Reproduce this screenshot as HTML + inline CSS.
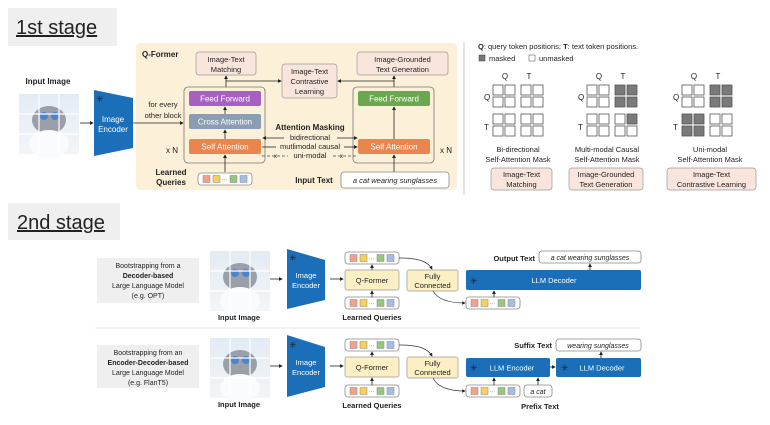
<!DOCTYPE html>
<html><head><meta charset="utf-8"><style>
html,body{margin:0;padding:0;background:#fff}
svg{display:block}
text{font-family:"Liberation Sans",sans-serif;fill:#222}
.b{font-weight:bold}
.w{fill:#fff}
</style></head><body>
<svg width="770" height="425" viewBox="0 0 770 425" xmlns="http://www.w3.org/2000/svg">
<defs>
<marker id="a" markerWidth="5" markerHeight="5" refX="4" refY="2.5" orient="auto"><path d="M0,0 L5,2.5 L0,5z" fill="#222"/></marker>
<linearGradient id="cat" x1="0" y1="0" x2="0" y2="1"><stop offset="0" stop-color="#e3ebf3"/><stop offset="1" stop-color="#f2f5f8"/></linearGradient>
<g id="q"><rect x="0" y="0" width="54" height="12" rx="3" fill="#fff" stroke="#888" stroke-width="0.8"/>
<rect x="5" y="2.5" width="7" height="7" fill="#f4a08a" stroke="#888" stroke-width="0.5"/>
<rect x="15" y="2.5" width="7" height="7" fill="#f7cf5a" stroke="#888" stroke-width="0.5"/>
<text x="24" y="8.5" font-size="5" fill="#888">···</text>
<rect x="32" y="2.5" width="7" height="7" fill="#98c67f" stroke="#888" stroke-width="0.5"/>
<rect x="42" y="2.5" width="7" height="7" fill="#a3bde6" stroke="#888" stroke-width="0.5"/></g>
<g id="img"><rect x="0" y="0" width="60" height="60" fill="url(#cat)"/>
<ellipse cx="30" cy="26" rx="17" ry="14" fill="#9a9fa8"/>
<ellipse cx="30" cy="50" rx="20" ry="14" fill="#fafbfc"/>
<circle cx="25" cy="22" r="4" fill="#4a85cf"/><circle cx="36" cy="22" r="4" fill="#4a85cf"/>
<path d="M20 0V60M40 0V60M0 20H60M0 40H60" stroke="#fff" stroke-width="1.2"/></g>
<g id="snow"><text x="0" y="0" font-size="9" fill="#cfe0f3">✳</text></g>
</defs>

<!-- 1st stage title -->
<rect x="8" y="8" width="109" height="38" fill="#efefef"/>
<text x="16" y="34" font-size="20" fill="#555" text-decoration="underline">1st stage</text>

<!-- Q-former bg -->
<rect x="136" y="43" width="321" height="147" rx="4" fill="#fcf1d8"/>
<text x="142" y="57" font-size="8" class="b">Q-Former</text>

<text x="48" y="84" font-size="8" class="b" text-anchor="middle">Input Image</text>
<use href="#img" x="19" y="94"/>
<line x1="80" y1="123" x2="93" y2="123" stroke="#222" stroke-width="0.8" marker-end="url(#a)"/>
<path d="M94 90 L133 98 L133 148 L94 156z" fill="#1a6fb8"/>
<use href="#snow" x="96" y="102"/>
<text x="113" y="122" font-size="8" class="w" text-anchor="middle">Image</text>
<text x="113" y="132" font-size="8" class="w" text-anchor="middle">Encoder</text>
<text x="163" y="107" font-size="7.5" text-anchor="middle">for every</text>
<text x="163" y="118" font-size="7.5" text-anchor="middle">other block</text>
<line x1="133" y1="123" x2="183" y2="123" stroke="#222" stroke-width="0.8" marker-end="url(#a)"/>

<!-- top boxes -->
<rect x="196" y="52" width="60" height="23" rx="3" fill="#fae5dc" stroke="#999" stroke-width="0.7"/>
<text x="226" y="62" font-size="7.5" text-anchor="middle">Image-Text</text>
<text x="226" y="72" font-size="7.5" text-anchor="middle">Matching</text>
<rect x="282" y="64" width="55" height="34" rx="3" fill="#fae5dc" stroke="#999" stroke-width="0.7"/>
<text x="309.5" y="74" font-size="7.5" text-anchor="middle">Image-Text</text>
<text x="309.5" y="84" font-size="7.5" text-anchor="middle">Contrastive</text>
<text x="309.5" y="94" font-size="7.5" text-anchor="middle">Learning</text>
<rect x="357" y="52" width="91" height="23" rx="3" fill="#fae5dc" stroke="#999" stroke-width="0.7"/>
<text x="402.5" y="62" font-size="7.5" text-anchor="middle">Image-Grounded</text>
<text x="402.5" y="72" font-size="7.5" text-anchor="middle">Text Generation</text>

<!-- connectors top -->
<line x1="226" y1="87" x2="226" y2="76" stroke="#222" stroke-width="0.8" marker-end="url(#a)"/>
<line x1="226" y1="81" x2="281" y2="81" stroke="#222" stroke-width="0.8" marker-end="url(#a)"/>
<line x1="394" y1="87" x2="394" y2="76" stroke="#222" stroke-width="0.8" marker-end="url(#a)"/>
<line x1="394" y1="81" x2="338" y2="81" stroke="#222" stroke-width="0.8" marker-end="url(#a)"/>

<!-- left block -->
<rect x="184" y="87" width="81" height="76" rx="4" fill="none" stroke="#777" stroke-width="0.8"/>
<rect x="189" y="91" width="72" height="15" rx="2" fill="#a660c4"/>
<text x="225" y="101.5" font-size="8" class="w" text-anchor="middle">Feed Forward</text>
<rect x="189" y="114" width="72" height="15" rx="2" fill="#8a9db2"/>
<text x="225" y="124.5" font-size="8" class="w" text-anchor="middle">Cross Attention</text>
<rect x="189" y="139" width="72" height="15" rx="2" fill="#e9854d"/>
<text x="225" y="149.5" font-size="8" class="w" text-anchor="middle">Self Attention</text>
<line x1="225" y1="114" x2="225" y2="107" stroke="#222" stroke-width="0.8" marker-end="url(#a)"/>
<line x1="225" y1="139" x2="225" y2="130" stroke="#222" stroke-width="0.8" marker-end="url(#a)"/>
<line x1="225" y1="172" x2="225" y2="155" stroke="#222" stroke-width="0.8" marker-end="url(#a)"/>

<!-- right block -->
<rect x="353" y="87" width="81" height="76" rx="4" fill="none" stroke="#777" stroke-width="0.8"/>
<rect x="358" y="91" width="72" height="15" rx="2" fill="#69a84e"/>
<text x="394" y="101.5" font-size="8" class="w" text-anchor="middle">Feed Forward</text>
<rect x="358" y="139" width="72" height="15" rx="2" fill="#e9854d"/>
<text x="394" y="149.5" font-size="8" class="w" text-anchor="middle">Self Attention</text>
<line x1="394" y1="139" x2="394" y2="107" stroke="#222" stroke-width="0.8" marker-end="url(#a)"/>
<line x1="394" y1="172" x2="394" y2="155" stroke="#222" stroke-width="0.8" marker-end="url(#a)"/>

<text x="310" y="130" font-size="8" class="b" text-anchor="middle">Attention Masking</text>
<text x="310" y="140" font-size="7.5" text-anchor="middle">bidirectional</text>
<text x="310" y="149" font-size="7.5" text-anchor="middle">mutlimodal causal</text>
<text x="310" y="158" font-size="7.5" text-anchor="middle">uni-modal</text>
<line x1="284" y1="138" x2="263" y2="138" stroke="#222" stroke-width="0.8" marker-end="url(#a)"/>
<line x1="337" y1="138" x2="357" y2="138" stroke="#222" stroke-width="0.8" marker-end="url(#a)"/>
<line x1="262" y1="147" x2="276" y2="147" stroke="#222" stroke-width="0.8"/>
<line x1="344" y1="147" x2="357" y2="147" stroke="#222" stroke-width="0.8" marker-end="url(#a)"/>
<line x1="262" y1="156" x2="288" y2="156" stroke="#444" stroke-width="0.8" stroke-dasharray="3,2"/>
<line x1="333" y1="156" x2="357" y2="156" stroke="#444" stroke-width="0.8" stroke-dasharray="3,2"/>
<text x="274" y="158" font-size="6">x</text><text x="340" y="158" font-size="6">x</text>
<text x="166" y="153" font-size="8">x N</text>
<text x="440" y="153" font-size="8">x N</text>

<text x="171" y="175" font-size="8" class="b" text-anchor="middle">Learned</text>
<text x="171" y="185" font-size="8" class="b" text-anchor="middle">Queries</text>
<use href="#q" x="198" y="173"/>
<text x="314" y="183" font-size="8" class="b" text-anchor="middle">Input Text</text>
<rect x="341" y="172" width="108" height="16" rx="3" fill="#fff" stroke="#888" stroke-width="0.8"/>
<text x="395" y="183" font-size="7.5" font-style="italic" text-anchor="middle">a cat wearing sunglasses</text>

<line x1="464" y1="42" x2="464" y2="195" stroke="#bbb" stroke-width="0.8"/>

<!-- right panel -->
<text x="478" y="49" font-size="7.5"><tspan class="b">Q</tspan>: query token positions;   <tspan class="b">T</tspan>: text token positions.</text>
<rect x="479" y="55" width="6" height="6" fill="#777" stroke="#444" stroke-width="0.5"/>
<text x="489" y="61" font-size="7.5">masked</text>
<rect x="529" y="55" width="6" height="6" fill="#fff" stroke="#444" stroke-width="0.5"/>
<text x="539" y="61" font-size="7.5">unmasked</text>

<g font-size="8">
<g id="g1" transform="translate(493,0)">
<text x="12" y="79" text-anchor="middle">Q</text><text x="36" y="79" text-anchor="middle">T</text>
<text x="-9" y="100">Q</text><text x="-9" y="130">T</text>
</g>
<g transform="translate(587,0)"><text x="12" y="79" text-anchor="middle">Q</text><text x="36" y="79" text-anchor="middle">T</text><text x="-9" y="100">Q</text><text x="-9" y="130">T</text></g>
<g transform="translate(682,0)"><text x="12" y="79" text-anchor="middle">Q</text><text x="36" y="79" text-anchor="middle">T</text><text x="-9" y="100">Q</text><text x="-9" y="130">T</text></g>
</g>
<g stroke="#555" stroke-width="0.8">
<!-- grid1 all unmasked -->
<g fill="#fff">
<rect x="493" y="85" width="10" height="10"/><rect x="505" y="85" width="10" height="10"/><rect x="521" y="85" width="10" height="10"/><rect x="533" y="85" width="10" height="10"/>
<rect x="493" y="97" width="10" height="10"/><rect x="505" y="97" width="10" height="10"/><rect x="521" y="97" width="10" height="10"/><rect x="533" y="97" width="10" height="10"/>
<rect x="493" y="114" width="10" height="10"/><rect x="505" y="114" width="10" height="10"/><rect x="521" y="114" width="10" height="10"/><rect x="533" y="114" width="10" height="10"/>
<rect x="493" y="126" width="10" height="10"/><rect x="505" y="126" width="10" height="10"/><rect x="521" y="126" width="10" height="10"/><rect x="533" y="126" width="10" height="10"/>
</g>
<!-- grid2 -->
<rect x="587" y="85" width="10" height="10" fill="#fff"/><rect x="599" y="85" width="10" height="10" fill="#fff"/><rect x="615" y="85" width="10" height="10" fill="#7a7a7a"/><rect x="627" y="85" width="10" height="10" fill="#7a7a7a"/>
<rect x="587" y="97" width="10" height="10" fill="#fff"/><rect x="599" y="97" width="10" height="10" fill="#fff"/><rect x="615" y="97" width="10" height="10" fill="#7a7a7a"/><rect x="627" y="97" width="10" height="10" fill="#7a7a7a"/>
<rect x="587" y="114" width="10" height="10" fill="#fff"/><rect x="599" y="114" width="10" height="10" fill="#fff"/><rect x="615" y="114" width="10" height="10" fill="#fff"/><rect x="627" y="114" width="10" height="10" fill="#7a7a7a"/>
<rect x="587" y="126" width="10" height="10" fill="#fff"/><rect x="599" y="126" width="10" height="10" fill="#fff"/><rect x="615" y="126" width="10" height="10" fill="#fff"/><rect x="627" y="126" width="10" height="10" fill="#fff"/>
<!-- grid3 -->
<rect x="682" y="85" width="10" height="10" fill="#fff"/><rect x="694" y="85" width="10" height="10" fill="#fff"/><rect x="710" y="85" width="10" height="10" fill="#7a7a7a"/><rect x="722" y="85" width="10" height="10" fill="#7a7a7a"/>
<rect x="682" y="97" width="10" height="10" fill="#fff"/><rect x="694" y="97" width="10" height="10" fill="#fff"/><rect x="710" y="97" width="10" height="10" fill="#7a7a7a"/><rect x="722" y="97" width="10" height="10" fill="#7a7a7a"/>
<rect x="682" y="114" width="10" height="10" fill="#7a7a7a"/><rect x="694" y="114" width="10" height="10" fill="#7a7a7a"/><rect x="710" y="114" width="10" height="10" fill="#fff"/><rect x="722" y="114" width="10" height="10" fill="#fff"/>
<rect x="682" y="126" width="10" height="10" fill="#7a7a7a"/><rect x="694" y="126" width="10" height="10" fill="#7a7a7a"/><rect x="710" y="126" width="10" height="10" fill="#fff"/><rect x="722" y="126" width="10" height="10" fill="#fff"/>
</g>
<g font-size="7.5" text-anchor="middle">
<text x="518" y="152">Bi-directional</text><text x="518" y="162">Self-Attention Mask</text>
<text x="607" y="152">Multi-modal Causal</text><text x="607" y="162">Self-Attention Mask</text>
<text x="710" y="152">Uni-modal</text><text x="710" y="162">Self-Attention Mask</text>
</g>
<rect x="491" y="168" width="61" height="22" rx="3" fill="#fae5dc" stroke="#999" stroke-width="0.7"/>
<rect x="569" y="168" width="74" height="22" rx="3" fill="#fae5dc" stroke="#999" stroke-width="0.7"/>
<rect x="667" y="168" width="89" height="22" rx="3" fill="#fae5dc" stroke="#999" stroke-width="0.7"/>
<g font-size="7.5" text-anchor="middle">
<text x="521.5" y="177">Image-Text</text><text x="521.5" y="187">Matching</text>
<text x="606" y="177">Image-Grounded</text><text x="606" y="187">Text Generation</text>
<text x="711.5" y="177">Image-Text</text><text x="711.5" y="187">Contrastive Learning</text>
</g>

<!-- 2nd stage -->
<rect x="8" y="203" width="112" height="37" fill="#efefef"/>
<text x="17" y="229" font-size="20" fill="#555" text-decoration="underline">2nd stage</text>

<!-- row1 -->
<rect x="97" y="258" width="102" height="45" fill="#efefef"/>
<g font-size="7" text-anchor="middle" fill="#444">
<text x="148" y="268">Bootstrapping from a</text>
<text x="148" y="278" class="b">Decoder-based</text>
<text x="148" y="288">Large Language Model</text>
<text x="148" y="298">(e.g. OPT)</text>
</g>
<use href="#img" x="210" y="251" transform="translate(0,0)"/>
<text x="239" y="320" font-size="7.5" class="b" text-anchor="middle">Input Image</text>
<line x1="270" y1="279" x2="282" y2="279" stroke="#222" stroke-width="0.8" marker-end="url(#a)"/>
<path d="M287 249 L325 260 L325 300 L287 309z" fill="#1a6fb8"/>
<use href="#snow" x="289" y="261"/>
<text x="306" y="278" font-size="7.5" class="w" text-anchor="middle">Image</text>
<text x="306" y="288" font-size="7.5" class="w" text-anchor="middle">Encoder</text>
<line x1="330" y1="279" x2="343" y2="279" stroke="#222" stroke-width="0.8" marker-end="url(#a)"/>
<use href="#q" x="345" y="252"/>
<rect x="345" y="270" width="54" height="20" rx="2" fill="#fcefc4" stroke="#999" stroke-width="0.7"/>
<text x="372" y="283" font-size="7.5" text-anchor="middle">Q-Former</text>
<use href="#q" x="345" y="297"/>
<line x1="372" y1="297" x2="372" y2="291" stroke="#222" stroke-width="0.8" marker-end="url(#a)"/>
<line x1="372" y1="270" x2="372" y2="265" stroke="#222" stroke-width="0.8" marker-end="url(#a)"/>
<text x="372" y="320" font-size="7.5" class="b" text-anchor="middle">Learned Queries</text>
<rect x="407" y="270" width="51" height="21" rx="2" fill="#fcefc4" stroke="#999" stroke-width="0.7"/>
<text x="432.5" y="279" font-size="7.5" text-anchor="middle">Fully</text>
<text x="432.5" y="288" font-size="7.5" text-anchor="middle">Connected</text>
<path d="M399 258 C420 258 428 262 432 269" fill="none" stroke="#333" stroke-width="0.7" marker-end="url(#a)"/>
<path d="M433 291 C438 300 450 303 465 303" fill="none" stroke="#333" stroke-width="0.7" marker-end="url(#a)"/>
<rect x="466" y="270" width="175" height="20" rx="2" fill="#1a6fb8"/>
<use href="#snow" x="470" y="284"/>
<text x="554" y="283" font-size="7.5" class="w" text-anchor="middle">LLM Decoder</text>
<use href="#q" x="466" y="297"/>
<line x1="494" y1="297" x2="494" y2="291" stroke="#222" stroke-width="0.8" marker-end="url(#a)"/>
<text x="535" y="261" font-size="7.5" class="b" text-anchor="end">Output Text</text>
<rect x="539" y="251" width="102" height="12" rx="3" fill="#fff" stroke="#888" stroke-width="0.8"/>
<text x="590" y="260" font-size="7" font-style="italic" text-anchor="middle">a cat wearing sunglasses</text>
<line x1="590" y1="270" x2="590" y2="264" stroke="#222" stroke-width="0.8" marker-end="url(#a)"/>

<line x1="95" y1="328" x2="640" y2="328" stroke="#ddd" stroke-width="0.8"/>

<!-- row2 -->
<rect x="97" y="345" width="102" height="43" fill="#efefef"/>
<g font-size="7" text-anchor="middle" fill="#444">
<text x="148" y="355">Bootstrapping from an</text>
<text x="148" y="365" class="b">Encoder-Decoder-based</text>
<text x="148" y="375">Large Language Model</text>
<text x="148" y="385">(e.g. FlanT5)</text>
</g>
<use href="#img" x="210" y="338"/>
<text x="239" y="407" font-size="7.5" class="b" text-anchor="middle">Input Image</text>
<line x1="270" y1="366" x2="282" y2="366" stroke="#222" stroke-width="0.8" marker-end="url(#a)"/>
<path d="M287 335 L325 347 L325 387 L287 397z" fill="#1a6fb8"/>
<use href="#snow" x="289" y="348"/>
<text x="306" y="365" font-size="7.5" class="w" text-anchor="middle">Image</text>
<text x="306" y="375" font-size="7.5" class="w" text-anchor="middle">Encoder</text>
<line x1="330" y1="366" x2="343" y2="366" stroke="#222" stroke-width="0.8" marker-end="url(#a)"/>
<use href="#q" x="345" y="339"/>
<rect x="345" y="357" width="54" height="20" rx="2" fill="#fcefc4" stroke="#999" stroke-width="0.7"/>
<text x="372" y="370" font-size="7.5" text-anchor="middle">Q-Former</text>
<use href="#q" x="345" y="385"/>
<line x1="372" y1="385" x2="372" y2="378" stroke="#222" stroke-width="0.8" marker-end="url(#a)"/>
<line x1="372" y1="357" x2="372" y2="352" stroke="#222" stroke-width="0.8" marker-end="url(#a)"/>
<text x="372" y="408" font-size="7.5" class="b" text-anchor="middle">Learned Queries</text>
<rect x="407" y="357" width="51" height="21" rx="2" fill="#fcefc4" stroke="#999" stroke-width="0.7"/>
<text x="432.5" y="366" font-size="7.5" text-anchor="middle">Fully</text>
<text x="432.5" y="375" font-size="7.5" text-anchor="middle">Connected</text>
<path d="M399 345 C420 345 428 349 432 356" fill="none" stroke="#333" stroke-width="0.7" marker-end="url(#a)"/>
<path d="M433 378 C438 388 450 391 465 391" fill="none" stroke="#333" stroke-width="0.7" marker-end="url(#a)"/>
<rect x="466" y="358" width="84" height="19" rx="2" fill="#1a6fb8"/>
<use href="#snow" x="470" y="371"/>
<text x="512" y="370.5" font-size="7.5" class="w" text-anchor="middle">LLM Encoder</text>
<line x1="550" y1="367" x2="555" y2="367" stroke="#222" stroke-width="0.8" marker-end="url(#a)"/>
<rect x="556" y="358" width="85" height="19" rx="2" fill="#1a6fb8"/>
<use href="#snow" x="561" y="371"/>
<text x="602" y="370.5" font-size="7.5" class="w" text-anchor="middle">LLM Decoder</text>
<use href="#q" x="466" y="385"/>
<line x1="494" y1="385" x2="494" y2="378" stroke="#222" stroke-width="0.8" marker-end="url(#a)"/>
<rect x="524" y="385" width="28" height="12" rx="3" fill="#fff" stroke="#888" stroke-width="0.8"/>
<text x="538" y="394" font-size="7" font-style="italic" text-anchor="middle">a cat</text>
<line x1="538" y1="385" x2="538" y2="378" stroke="#222" stroke-width="0.8" marker-end="url(#a)"/>
<text x="540" y="409" font-size="7.5" class="b" text-anchor="middle">Prefix Text</text>
<text x="552" y="348" font-size="7.5" class="b" text-anchor="end">Suffix Text</text>
<rect x="556" y="339" width="85" height="12" rx="3" fill="#fff" stroke="#888" stroke-width="0.8"/>
<text x="598" y="348" font-size="7" font-style="italic" text-anchor="middle">wearing sunglasses</text>
<line x1="601" y1="358" x2="601" y2="352" stroke="#222" stroke-width="0.8" marker-end="url(#a)"/>
</svg>
</body></html>
